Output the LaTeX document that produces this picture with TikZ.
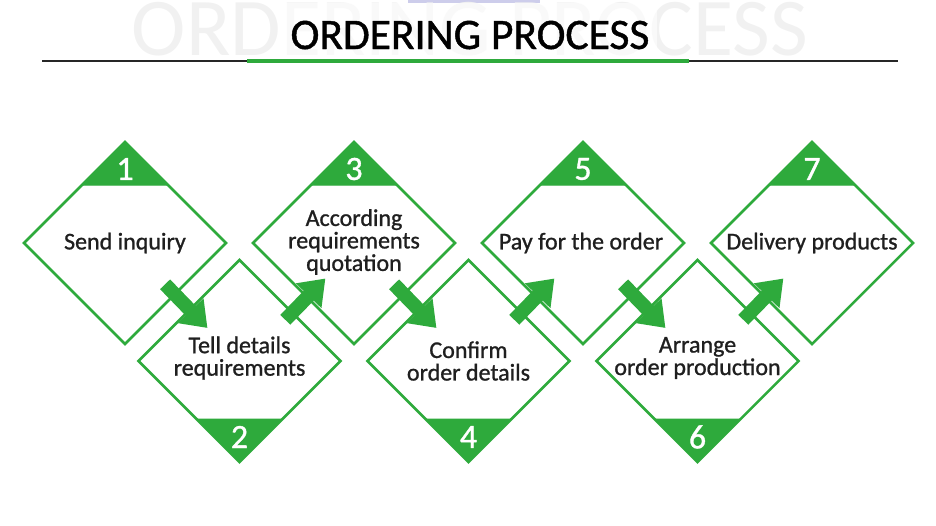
\documentclass[tikz,border=0pt]{standalone}
\usepackage{fontspec}
\setmainfont{Carlito}
\newfontfamily\stepfont{Carlito}[RawFeature={embolden=1.0}]
\usetikzlibrary{shapes.geometric,arrows.meta,calc}

\definecolor{stepgreen}{RGB}{46,170,60}
\definecolor{markgray}{RGB}{241,241,241}
\definecolor{toplilac}{RGB}{205,205,235}

\tikzset{
  stepbox/.style={draw=stepgreen, line width=2.5pt, shape=diamond, minimum width=202pt, minimum height=202pt, inner sep=0pt, outer sep=0pt, fill=white},
  steptext/.style={align=center, font=\stepfont\fontsize{24}{22.5}\selectfont, text=black!88, inner sep=0pt},
  stepnum/.style={text=white, font=\stepfont\fontsize{34}{34}\selectfont, inner sep=0pt},
  stepflag/.style={fill=stepgreen, draw=stepgreen, line width=1pt, line join=round},
  steparrow/.style={draw=stepgreen, line width=14pt, -{Triangle[width=34pt,length=24pt]}}
}

\begin{document}
\begin{tikzpicture}[x=1pt,y=1pt,yscale=-1]
\useasboundingbox (0,0) rectangle (936,525);

% heading
\fill[toplilac] (408,0) rectangle (540,3);
\node[font=\fontsize{82}{82}\selectfont, text=markgray, anchor=base, inner sep=0pt] (mark) at (470,55) {ORDERING PROCESS};
\fill[white, opacity=0.6] (283,3) rectangle (657,57);
\node[font=\stepfont\fontsize{43.5}{43.5}\selectfont, anchor=base, inner sep=0pt] (title) at (470,49) {ORDERING PROCESS};
\draw[line width=2pt, black!85] (42,61) -- (898,61);
\draw[line width=4pt, stepgreen] (247,61) -- (689,61);

% steps
\node[stepbox] (d1) at (125,243) {};
\node[stepbox] (d2) at (239.5,361) {};
\node[stepbox] (d3) at (354,243) {};
\node[stepbox] (d4) at (468.5,361) {};
\node[stepbox] (d5) at (583,243) {};
\node[stepbox] (d6) at (697.5,361) {};
\node[stepbox] (d7) at (812,243) {};

\fill[stepflag] (d1.north) -- ++(-43,43) -- ++(86,0) -- cycle;
\fill[stepflag] (d3.north) -- ++(-43,43) -- ++(86,0) -- cycle;
\fill[stepflag] (d5.north) -- ++(-43,43) -- ++(86,0) -- cycle;
\fill[stepflag] (d7.north) -- ++(-43,43) -- ++(86,0) -- cycle;
\fill[stepflag] (d2.south) -- ++(-43,-43) -- ++(86,0) -- cycle;
\fill[stepflag] (d4.south) -- ++(-43,-43) -- ++(86,0) -- cycle;
\fill[stepflag] (d6.south) -- ++(-43,-43) -- ++(86,0) -- cycle;

\node[stepnum] (n1) at ($(d1.north)+(0,27)$) {1};
\node[stepnum] (n3) at ($(d3.north)+(0,27)$) {3};
\node[stepnum] (n5) at ($(d5.north)+(0,27)$) {5};
\node[stepnum] (n7) at ($(d7.north)+(0,27)$) {7};
\node[stepnum] (n2) at ($(d2.south)+(0,-25)$) {2};
\node[stepnum] (n4) at ($(d4.south)+(0,-25)$) {4};
\node[stepnum] (n6) at ($(d6.south)+(0,-25)$) {6};

\node[steptext] (t1) at (d1) {Send inquiry};
\node[steptext] (t2) at ($(d2)+(0,-3)$) {Tell details\\requirements};
\node[steptext] (t3) at ($(d3)+(0,-1)$) {According\\requirements\\quotation};
\node[steptext] (t4) at (d4) {Confirm\\order details};
\node[steptext] (t5) at ($(d5)+(-2,0)$) {Pay for the order};
\node[steptext] (t6) at ($(d6)+(0,-3)$) {Arrange\\order production};
\node[steptext] (t7) at (d7) {Delivery products};

% arrows between steps
\draw[steparrow] ($(d1)!0.35!(d2)$) -- ($(d1)!0.72!(d2)$);
\draw[steparrow] ($(d2)!0.40!(d3)+(0,6)$) -- ($(d2)!0.75!(d3)+(0,6)$);
\draw[steparrow] ($(d3)!0.35!(d4)$) -- ($(d3)!0.72!(d4)$);
\draw[steparrow] ($(d4)!0.40!(d5)+(0,6)$) -- ($(d4)!0.75!(d5)+(0,6)$);
\draw[steparrow] ($(d5)!0.35!(d6)$) -- ($(d5)!0.72!(d6)$);
\draw[steparrow] ($(d6)!0.40!(d7)+(0,6)$) -- ($(d6)!0.75!(d7)+(0,6)$);

\end{tikzpicture}
\end{document}
